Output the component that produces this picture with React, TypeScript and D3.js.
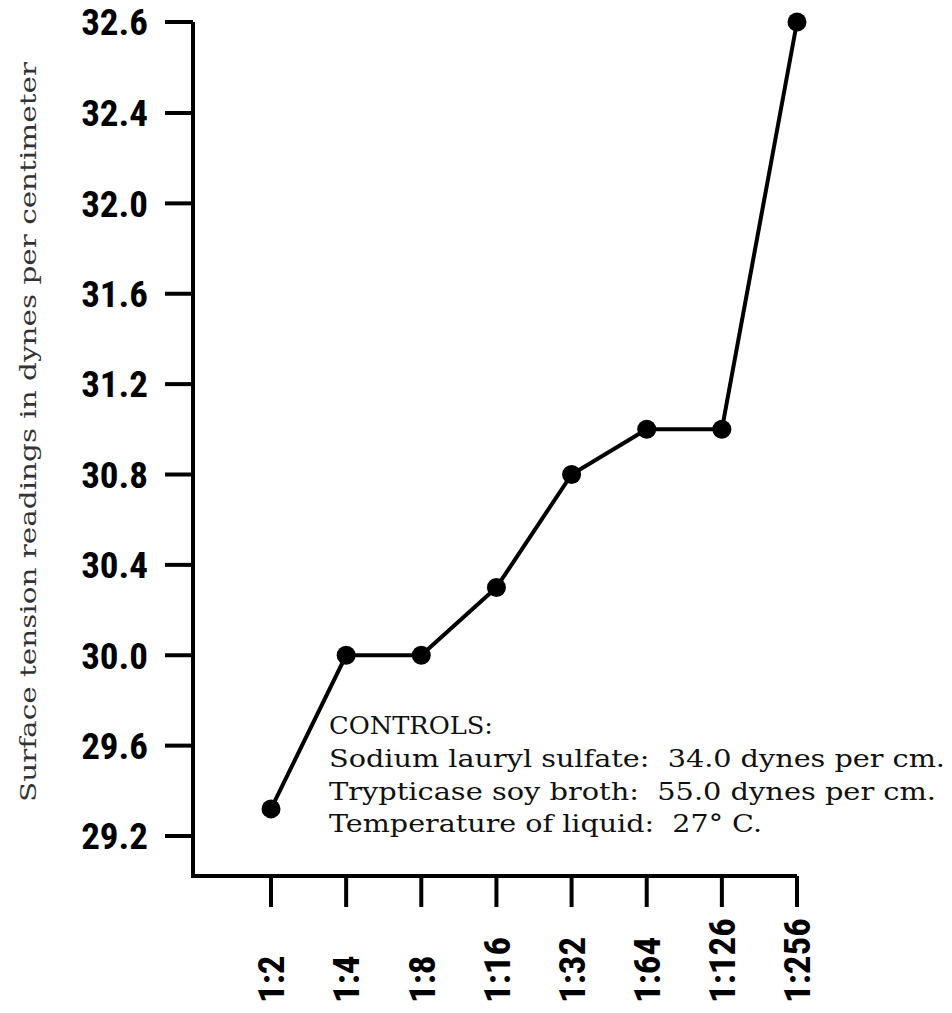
import React from 'react';
import * as d3 from 'd3';

// dilution ratios on the x axis
const dilutions = ['1:2', '1:4', '1:8', '1:16', '1:32', '1:64', '1:126', '1:256'];
// surface tension readings (dynes per cm)
const readings = [29.32, 30.0, 30.0, 30.3, 30.8, 31.0, 31.0, 32.6];
// tick values as printed on the y axis
const yTicks = [29.2, 29.6, 30.0, 30.4, 30.8, 31.2, 31.6, 32.0, 32.4, 32.6];
const yTickLabels = ['29.2', '29.6', '30.0', '30.4', '30.8', '31.2', '31.6', '32.0', '32.4', '32.6'];

const controlLines = [
    'CONTROLS:',
    'Sodium lauryl sulfate:  34.0 dynes per cm.',
    'Trypticase soy broth:  55.0 dynes per cm.',
    'Temperature of liquid:  27° C.',
];
const controlWidths = [164, 616, 607, 433];

const W = 952;
const H = 1013;
const axisX = 193;
const axisY = 876;
const tickFont = '"Liberation Sans Narrow", "Roboto Condensed", "Arial Narrow", sans-serif';
const typeFont = '"DejaVu Serif", serif';

const App: React.FC = () => {
    const x = d3.scalePoint<string>().domain(dilutions).range([271, 797]);

    // the printed axis is evenly spaced, but the top step is only 0.2
    const y = d3.scaleLinear().domain([29.2, 32.4, 32.6]).range([836, 113, 22]);

    const pts = dilutions.map((d, i) => ({ d, v: readings[i] }));
    const line = d3.line<{ d: string; v: number }>()
        .x(p => x(p.d) as number)
        .y(p => y(p.v));

    return (
        <svg width={W} height={H} style={{ position: 'absolute', top: 0, left: 0, background: '#fff' }}>
            {/* axes */}
            <path
                d={`M${axisX},${y(32.6)}V${axisY}H${x('1:256')}`}
                fill="none"
                stroke="#000"
                strokeWidth={4}
            />
            {yTicks.map((t, i) => (
                <g key={t}>
                    <line x1={165} x2={axisX} y1={y(t)} y2={y(t)} stroke="#000" strokeWidth={4} />
                    <text
                        x={148}
                        y={y(t)}
                        dy="0.36em"
                        textAnchor="end"
                        fontFamily={tickFont}
                        fontWeight="bold"
                        fontSize={37}
                    >
                        {yTickLabels[i]}
                    </text>
                </g>
            ))}
            {dilutions.map(d => (
                <g key={d}>
                    <line x1={x(d)} x2={x(d)} y1={axisY} y2={907} stroke="#000" strokeWidth={4} />
                    <text
                        transform={`translate(${(x(d) as number)},1003) rotate(-90)`}
                        dy="0.36em"
                        textAnchor="start"
                        fontFamily={tickFont}
                        fontWeight="bold"
                        fontSize={37}
                    >
                        {d}
                    </text>
                </g>
            ))}

            {/* y axis title */}
            <text
                transform="translate(28,432) rotate(-90)"
                dy="0.36em"
                textAnchor="middle"
                fontFamily={typeFont}
                fontSize={22}
                textLength={740}
                lengthAdjust="spacingAndGlyphs"
                fill="#333"
            >
                Surface tension readings in dynes per centimeter
            </text>

            {/* data */}
            <path d={line(pts) || ''} fill="none" stroke="#000" strokeWidth={4} strokeLinejoin="round" />
            {pts.map(p => (
                <circle key={p.d} cx={x(p.d)} cy={y(p.v)} r={9.5} fill="#000" />
            ))}

            {/* controls note */}
            {controlLines.map((t, i) => (
                <text
                    key={i}
                    x={329}
                    y={734 + i * 32.8}
                    fontFamily={typeFont}
                    fontSize={24}
                    textLength={controlWidths[i]}
                    lengthAdjust="spacingAndGlyphs"
                    style={{ whiteSpace: 'pre' }}
                    fill="#111"
                >
                    {t}
                </text>
            ))}
        </svg>
    );
};

export default App;
